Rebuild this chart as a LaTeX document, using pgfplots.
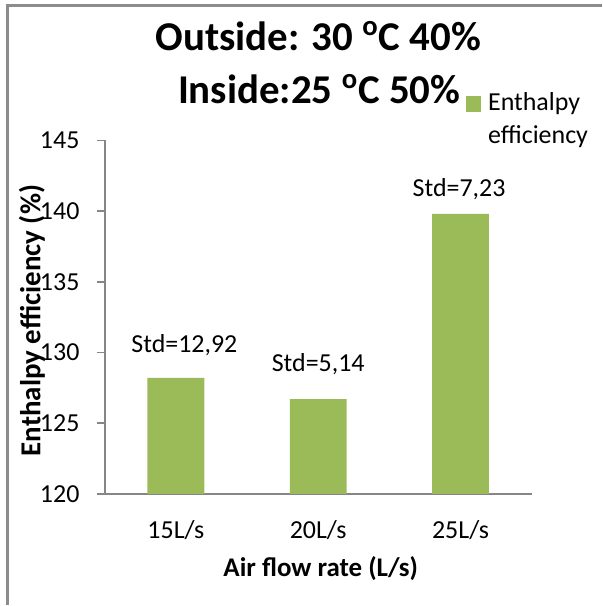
\documentclass[border=0pt]{standalone}
\usepackage{pgfplots}
\pgfplotsset{compat=1.18}
\usepackage{fontspec}
\setmainfont{Carlito}
\definecolor{bargreen}{HTML}{9BBB59}
\definecolor{axisgray}{HTML}{868686}
\definecolor{framegray}{HTML}{8C8C8C}
\begin{document}
\begin{tikzpicture}
\path (0,0) rectangle (301.5pt,303pt);
\draw[framegray, line width=1.5pt] (3pt,300.25pt) -- (301.5pt,300.25pt);
\draw[framegray, line width=1.5pt] (3.75pt,0) -- (3.75pt,301pt);
\begin{axis}[
 at={(52.5pt,55.5pt)}, anchor=south west,
 scale only axis, width=214pt, height=177.15pt,
 xmin=-0.5, xmax=2.5, ymin=120, ymax=145,
 ybar, bar width=28.5pt,
 axis x line*=bottom, axis y line*=left,
 axis line style={draw=axisgray, line width=0.8pt, -},
 xtick={0,1,2}, xticklabels={15L/s,20L/s,25L/s},
 ytick={120,125,...,145},
 tick align=outside,
 major tick length=4pt,
 ytick style={draw=axisgray, line width=0.8pt},
 xtick style={draw=none},
 tick label style={font=\fontsize{13}{15.6}\selectfont},
 /pgf/number format/assume math mode=true,
 yticklabel style={anchor=east, inner sep=0pt, xshift=-8.5pt},
 xticklabel style={anchor=base, inner sep=0pt, yshift=-18.5pt},
 xlabel={Air flow rate (L/s)},
 ylabel={Enthalpy efficiency (\%)},
 xlabel style={font=\fontsize{13.5}{16}\selectfont\bfseries, at={(axis description cs:0.506,-0.2117)}, anchor=center},
 ylabel style={font=\fontsize{14.5}{17}\selectfont\bfseries, at={(axis description cs:-0.1706,0.49)}, anchor=center},
 legend style={at={(axis description cs:0.845,1.1495)}, anchor=north west, draw=none, fill=none, inner sep=0pt,
   font=\fontsize{13}{16.5}\selectfont, nodes={inner sep=0pt},
   /tikz/every odd column/.append style={column sep=3.35pt}},
 legend cell align=left,
 legend image code/.code={\fill[#1, draw=none] (0pt,-3.4pt) rectangle (7.8pt,4.4pt);},
 clip=false,
]
\addplot[fill=bargreen, draw=none] coordinates {(0,128.2) (1,126.7) (2,139.8)};
\addlegendentry{\raisebox{4.25pt}{\begin{tabular}[t]{@{}l@{}}Enthalpy\\efficiency\end{tabular}}}
\draw[axisgray, line width=0.8pt] ([xshift=-4pt]rel axis cs:0,0) -- (rel axis cs:0,0);
\node[font=\fontsize{13}{15.6}\selectfont] at (axis cs:0.06,130.5) {Std=12,92};
\node[font=\fontsize{13}{15.6}\selectfont] at (axis cs:1.0,129.2) {Std=5,14};
\node[font=\fontsize{13}{15.6}\selectfont] at (axis cs:1.99,141.55) {Std=7,23};
\end{axis}
\node[font=\fontsize{20.5}{24}\selectfont\bfseries, anchor=base] at (159.5pt,277.5pt) {Outside: 30 \textsuperscript{o}C 40\%};
\node[font=\fontsize{20.5}{24}\selectfont\bfseries, anchor=base] at (160pt,251pt) {Inside:25 \textsuperscript{o}C 50\%};
\end{tikzpicture}
\end{document}
